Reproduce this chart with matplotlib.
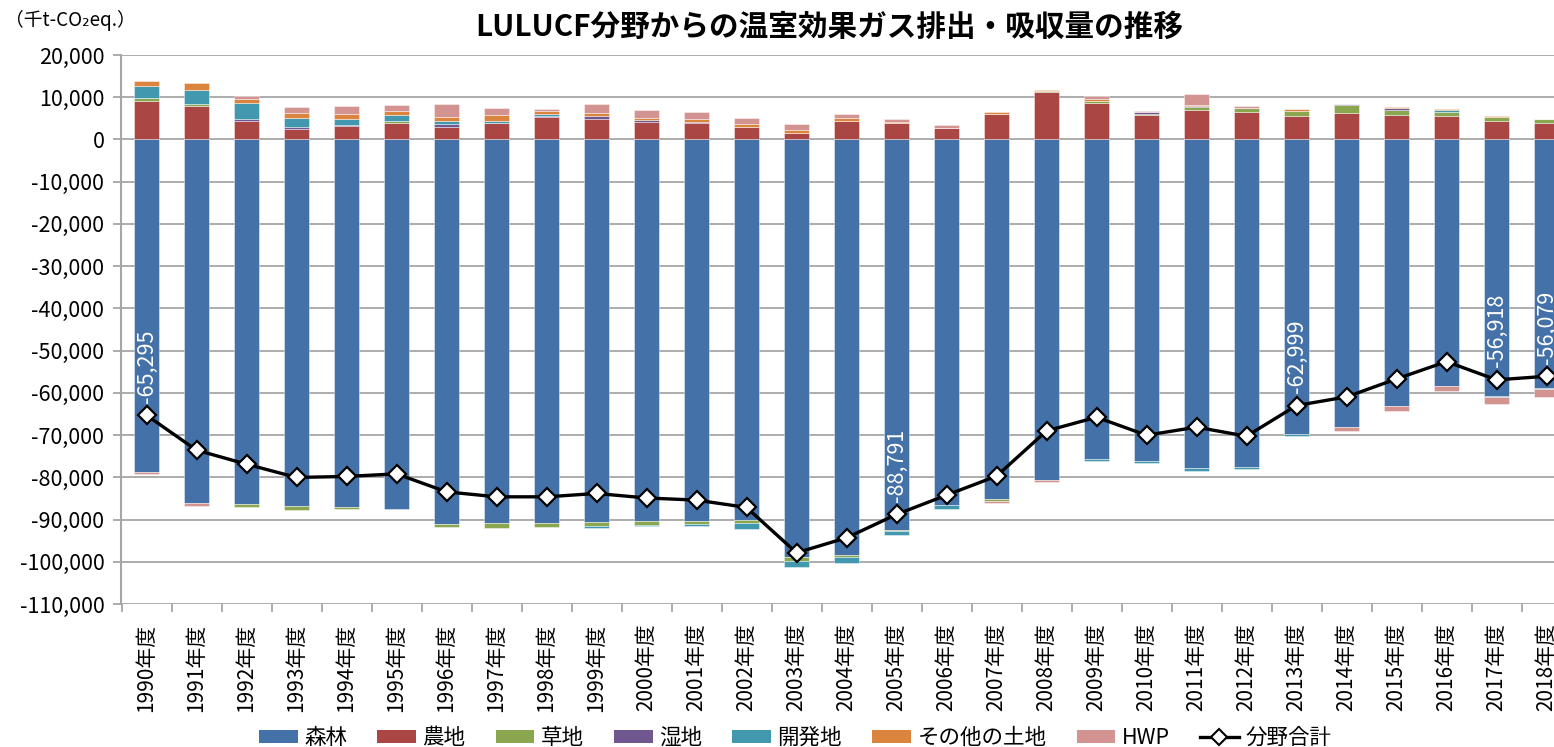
import numpy as np
import matplotlib
matplotlib.use("Agg")
import matplotlib.pyplot as plt
from matplotlib.lines import Line2D
from matplotlib.patches import Patch

plt.rcParams['font.family'] = ['Noto Sans CJK JP', 'DejaVu Sans']

years = [f"{y}年度" for y in range(1990, 2019)]

forest = [-78780, -86040, -86350, -86740, -87060, -87530, -91150, -90840, -90770, -90530,
          -90370, -90290, -90060, -98890, -98340, -92430, -86510, -85240, -80590, -75630,
          -76250, -77760, -77520, -69860, -68130, -63000, -58430, -60640, -58830]
cropland = [9060, 7970, 4300, 2580, 3280, 3980, 3050, 3980, 5230, 4920,
            4220, 3900, 3050, 1640, 4450, 3980, 2810, 6090, 11250, 8670,
            5860, 6950, 6560, 5620, 6330, 5860, 5620, 4450, 3980]
grassland = [700, 470, -630, -950, -550, 310, -550, -1180, -1100, -1020,
             -860, -780, -780, -1020, -550, -390, 0, -390, 300, 470,
             230, 700, 940, 1020, 1800, 1170, 940, 860, 780]
wetland = [0, 0, 470, 300, 150, 150, 700, 0, 390, 620,
           390, 230, 0, 0, 0, 0, 0, 0, 0, 0,
           310, 390, 0, 0, 230, 390, 0, 0, 200]
settlements = [2890, 3360, 3750, 2270, 1490, 1330, 700, 470, 390, -390,
               -390, -550, -1420, -1420, -1500, -780, -1020, 0, 0, -470,
               -390, -860, -550, -390, 0, 0, 470, -230, -150]
other_land = [1250, 1480, 1090, 1170, 1170, 1020, 940, 1330, 700, 780,
              550, 620, 700, 550, 700, 230, 0, 310, 250, 390,
              0, 230, 0, 470, 0, 150, 150, 230, 0]
hwp = [-400, -710, 620, 1330, 1800, 1400, 3050, 1720, 470, 2110,
       1800, 1640, 1250, 1480, 940, 620, 620, -470, -470, 780,
       310, 2420, 390, 0, -1020, -1250, -1250, -1720, -1950]
total = [-65295, -73570, -76890, -80030, -79800, -79180, -83440, -84620, -84620, -83830,
         -84890, -85400, -87130, -97870, -94320, -88791, -84220, -79720, -69010, -65770,
         -70030, -68130, -70260, -62999, -60960, -56700, -52600, -56918, -56079]
labeled_years = ["1990年度", "2005年度", "2013年度", "2017年度", "2018年度"]

series_names = ["森林", "農地", "草地", "湿地", "開発地", "その他の土地", "HWP"]
series_vals = [forest, cropland, grassland, wetland, settlements, other_land, hwp]
colors = ["#4472A8", "#AA4644", "#8AA64E", "#71578F", "#4198AF", "#DB843D", "#D29391"]
line_name = "分野合計"
title = "LULUCF分野からの温室効果ガス排出・吸収量の推移"

fig = plt.figure(figsize=(15.54, 7.47), dpi=100)
ax = fig.add_axes([121/1554, 1 - 604/747, 1 - 121/1554, (604 - 55)/747])

x = np.arange(len(years))
pos = np.zeros(len(years))
neg = np.zeros(len(years))
for name, vals, c in zip(series_names, series_vals, colors):
    v = np.array(vals, dtype=float)
    bottom = np.where(v >= 0, pos, neg)
    ax.bar(x, v, 0.49, bottom=bottom, color=c, edgecolor=(1, 1, 1, 0.5),
           linewidth=0.6, zorder=3, label=name)
    pos = pos + np.where(v >= 0, v, 0)
    neg = neg + np.where(v < 0, v, 0)

ax.plot(x, total, color="black", lw=2.4, marker="D", markersize=9.5,
        markerfacecolor="white", markeredgecolor="black", markeredgewidth=1.6,
        zorder=5)

for i, (yr, t) in enumerate(zip(years, total)):
    if yr in labeled_years:
        ax.annotate(f"{t:,}", (i, t), xytext=(0, 9), textcoords="offset points",
                    rotation=90, ha="center", va="bottom", color="white",
                    fontsize=15.5, zorder=6)

ax.set_yticks(np.arange(-110000, 20001, 10000))
ax.yaxis.set_major_formatter(matplotlib.ticker.FuncFormatter(lambda v, p: f"{int(v):,}"))
ax.grid(axis="y", color="#A6A6A6", lw=1.3, zorder=0)
ax.set_axisbelow(True)
for s in ["top", "right", "bottom"]:
    ax.spines[s].set_visible(False)
ax.spines["left"].set_color("#A6A6A6")
ax.spines["left"].set_linewidth(1.5)
ax.tick_params(axis="y", length=6, color="#A6A6A6", width=1.3, labelsize=15.5, pad=6)
ax.set_xticks(x)
ax.set_xticklabels(years, rotation=90, fontsize=15)
ax.tick_params(axis="x", length=0, pad=14)
ax.set_xticks(np.arange(-0.5, 28.6, 1), minor=True)
ax.tick_params(axis="x", which="minor", length=6, color="#A6A6A6", width=1.3)
ax.set_ylim(-110000, 20000)
ax.set_xlim(-0.51, 28.15)

fig.text(829/1554, 1 - 27/747, title, ha="center", va="center", fontsize=21.3,
         fontweight="bold")
fig.text(5/1554, 1 - 20/747, "（千t-CO₂eq.）", ha="left", va="center", fontsize=13.5)

handles = [Patch(facecolor=c, label=n) for n, c in zip(series_names, colors)]
handles.append(Line2D([0], [0], color="black", lw=2.4, marker="D", markersize=8,
                      markerfacecolor="white", markeredgecolor="black",
                      markeredgewidth=1.5, label=line_name))
fig.legend(handles=handles, loc="center", bbox_to_anchor=(795/1554, 1 - 738/747),
           ncol=8, frameon=False, fontsize=15.5, handlelength=1.8, handleheight=0.6,
           handletextpad=0.3, columnspacing=1.4)

fig.savefig("out.png", dpi=100)
